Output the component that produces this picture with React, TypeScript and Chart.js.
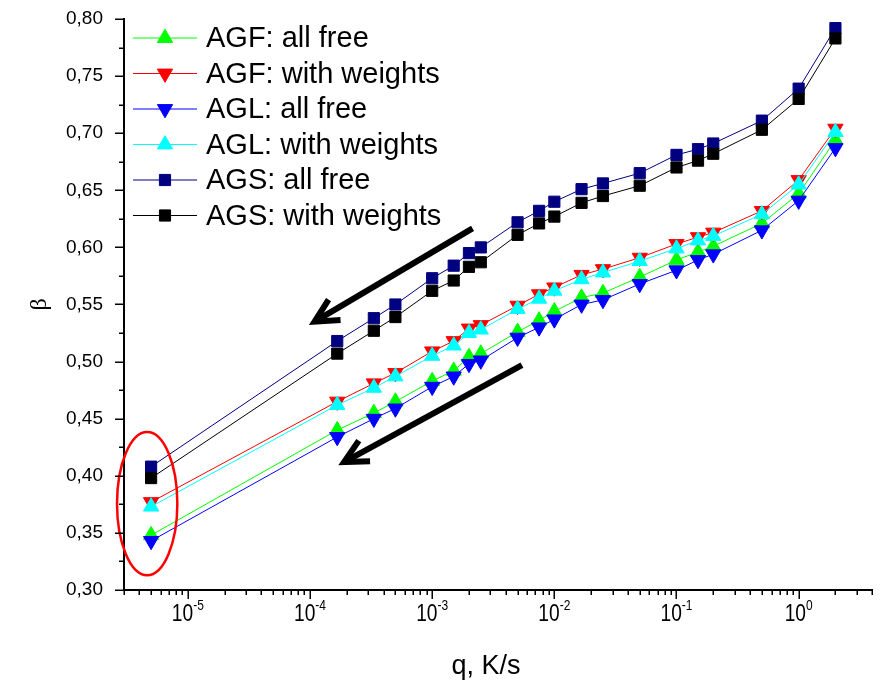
import React, { useEffect, useRef } from 'react';
import { Chart, registerables } from 'chart.js';

Chart.register(...registerables);

// Heating rate q, K/s
const qValues = [5e-6, 1.67e-4, 3.33e-4, 5e-4, 1e-3, 1.5e-3, 2e-3, 2.5e-3, 5e-3, 7.5e-3, 1e-2, 1.67e-2, 2.5e-2, 5e-2, 0.1, 0.15, 0.2, 0.5, 1, 2];

const agfAllFree = [0.348, 0.440, 0.455, 0.465, 0.483, 0.492, 0.504, 0.507, 0.526, 0.536, 0.544, 0.556, 0.560, 0.574, 0.589, 0.596, 0.601, 0.621, 0.647, 0.694];
const agfWeights = [0.377, 0.465, 0.481, 0.490, 0.509, 0.518, 0.529, 0.532, 0.549, 0.559, 0.565, 0.576, 0.581, 0.591, 0.603, 0.609, 0.613, 0.632, 0.659, 0.704];
const aglAllFree = [0.343, 0.434, 0.450, 0.459, 0.478, 0.487, 0.498, 0.501, 0.521, 0.530, 0.537, 0.550, 0.554, 0.568, 0.580, 0.589, 0.594, 0.615, 0.641, 0.687];
const aglWeights = [0.373, 0.462, 0.477, 0.487, 0.505, 0.514, 0.525, 0.528, 0.546, 0.555, 0.562, 0.572, 0.578, 0.588, 0.599, 0.606, 0.610, 0.629, 0.655, 0.701];
const agsAllFree = [0.408, 0.518, 0.538, 0.550, 0.573, 0.584, 0.595, 0.600, 0.622, 0.632, 0.640, 0.651, 0.656, 0.665, 0.681, 0.686, 0.691, 0.711, 0.739, 0.792];
const agsWeights = [0.398, 0.507, 0.527, 0.539, 0.562, 0.571, 0.583, 0.587, 0.611, 0.621, 0.627, 0.639, 0.645, 0.654, 0.670, 0.676, 0.682, 0.703, 0.730, 0.783];

const seriesLabels = ['AGF: all free', 'AGF: with weights', 'AGL: all free', 'AGL: with weights', 'AGS: all free', 'AGS: with weights'];

// Axis ranges and ticks
const xMin = 3e-6;
const xMax = 4;
const yMin = 0.3;
const yMax = 0.8;
const xMajorTicks = [1e-5, 1e-4, 1e-3, 1e-2, 1e-1, 1];
const xMajorExponents = ['-5', '-4', '-3', '-2', '-1', '0'];
const xDecades = [-6, -5, -4, -3, -2, -1, 0];
const yMinorStep = 0.025;

// Annotations (data coordinates)
const arrowUpper = { from: [2.14e-3, 0.6167], to: [1.09e-4, 0.535] };
const arrowLower = { from: [5.43e-3, 0.497], to: [1.9e-4, 0.412] };
const ellipseBox = { xLeft: 2.63e-6, xRight: 8.2e-6, yTop: 0.4384, yBottom: 0.313 };

const FONT = '"Liberation Sans", Arial, sans-serif';

function drawMarker(ctx: CanvasRenderingContext2D, style: string, rot: number, x: number, y: number, r: number, color: string) {
  ctx.save();
  ctx.fillStyle = color;
  ctx.strokeStyle = color;
  ctx.lineWidth = 1;
  ctx.beginPath();
  if (style === 'rect') {
    const s = Math.SQRT1_2 * r;
    ctx.rect(x - s, y - s, 2 * s, 2 * s);
  } else {
    const sign = rot === 180 ? -1 : 1;
    const w = r * Math.sqrt(3) / 2;
    ctx.moveTo(x, y - sign * r);
    ctx.lineTo(x + w, y + sign * r / 2);
    ctx.lineTo(x - w, y + sign * r / 2);
    ctx.closePath();
  }
  ctx.fill();
  ctx.stroke();
  ctx.restore();
}

function drawArrow(ctx: CanvasRenderingContext2D, x1: number, y1: number, x2: number, y2: number) {
  const ang = Math.atan2(y1 - y2, x1 - x2);
  const head = 26;
  const spread = 0.47;
  ctx.save();
  ctx.strokeStyle = '#000';
  ctx.lineWidth = 6;
  ctx.lineCap = 'butt';
  ctx.lineJoin = 'miter';
  ctx.beginPath();
  ctx.moveTo(x1, y1);
  ctx.lineTo(x2 + Math.cos(ang) * 3, y2 + Math.sin(ang) * 3);
  ctx.stroke();
  ctx.beginPath();
  ctx.moveTo(x2 + Math.cos(ang - spread) * head, y2 + Math.sin(ang - spread) * head);
  ctx.lineTo(x2, y2);
  ctx.lineTo(x2 + Math.cos(ang + spread) * head, y2 + Math.sin(ang + spread) * head);
  ctx.stroke();
  ctx.restore();
}

export default function App() {
  const ref = useRef<HTMLCanvasElement>(null);

  useEffect(() => {
    const series = [
      { label: seriesLabels[0], values: agfAllFree, color: '#00ff00', style: 'triangle', rot: 0, r: 8.8 },
      { label: seriesLabels[1], values: agfWeights, color: '#ff0000', style: 'triangle', rot: 180, r: 8.8 },
      { label: seriesLabels[2], values: aglAllFree, color: '#0000ff', style: 'triangle', rot: 180, r: 8.8 },
      { label: seriesLabels[3], values: aglWeights, color: '#00ffff', style: 'triangle', rot: 0, r: 8.8 },
      { label: seriesLabels[4], values: agsAllFree, color: '#000080', style: 'rect', rot: 0, r: 7.9 },
      { label: seriesLabels[5], values: agsWeights, color: '#000000', style: 'rect', rot: 0, r: 7.9 },
    ];

    const decor = {
      id: 'decor',
      afterDatasetsDraw(chart: any) {
        const { ctx, chartArea } = chart;
        const xs = chart.scales.x;
        const ys = chart.scales.y;
        ctx.save();
        // Arrows
        for (const a of [arrowUpper, arrowLower]) {
          drawArrow(ctx, xs.getPixelForValue(a.from[0]), ys.getPixelForValue(a.from[1]), xs.getPixelForValue(a.to[0]), ys.getPixelForValue(a.to[1]));
        }
        // Ellipse
        const exl = xs.getPixelForValue(ellipseBox.xLeft);
        const exr = xs.getPixelForValue(ellipseBox.xRight);
        const eyt = ys.getPixelForValue(ellipseBox.yTop);
        const eyb = ys.getPixelForValue(ellipseBox.yBottom);
        ctx.strokeStyle = '#ff0000';
        ctx.lineWidth = 2.5;
        ctx.beginPath();
        ctx.ellipse((exl + exr) / 2, (eyt + eyb) / 2, (exr - exl) / 2, (eyb - eyt) / 2, 0, 0, Math.PI * 2);
        ctx.stroke();

        // Legend
        const lx = chartArea.left + 9;
        series.forEach((s, i) => {
          const y = chartArea.top + 19 + i * 35.5;
          ctx.strokeStyle = s.color;
          ctx.lineWidth = 1;
          ctx.beginPath();
          ctx.moveTo(lx, y);
          ctx.lineTo(lx + 64, y);
          ctx.stroke();
          drawMarker(ctx, s.style, s.rot, lx + 32, y, s.r, s.color);
          ctx.fillStyle = '#000';
          ctx.font = '29px ' + FONT;
          ctx.textBaseline = 'middle';
          ctx.textAlign = 'left';
          ctx.fillText(s.label, lx + 73, y + 1);
        });
        ctx.restore();
      },
      afterDraw(chart: any) {
        const { ctx, chartArea } = chart;
        const xs = chart.scales.x;
        const ys = chart.scales.y;
        ctx.save();
        ctx.strokeStyle = '#000';
        ctx.lineWidth = 1.5;
        // x ticks
        for (const d of xDecades) {
          for (let m = 1; m <= 9; m++) {
            const v = m * Math.pow(10, d);
            if (v < xMin || v > xMax) continue;
            const px = Math.round(xs.getPixelForValue(v)) + 0.25;
            const len = m === 1 ? 9 : 5;
            ctx.beginPath();
            ctx.moveTo(px, chartArea.bottom);
            ctx.lineTo(px, chartArea.bottom + len);
            ctx.stroke();
          }
        }
        // y ticks
        const n = Math.round((yMax - yMin) / yMinorStep);
        for (let i = 0; i <= n; i++) {
          const v = yMin + i * yMinorStep;
          const py = Math.round(ys.getPixelForValue(v)) + 0.25;
          const len = i % 2 === 0 ? 9 : 5;
          ctx.beginPath();
          ctx.moveTo(chartArea.left, py);
          ctx.lineTo(chartArea.left - len, py);
          ctx.stroke();
        }
        // x tick labels 10^n
        ctx.fillStyle = '#000';
        ctx.textBaseline = 'alphabetic';
        ctx.textAlign = 'left';
        xMajorTicks.forEach((v, i) => {
          const px = xs.getPixelForValue(v);
          ctx.font = '24px ' + FONT;
          const w1 = ctx.measureText('10').width * 0.8;
          ctx.font = '15px ' + FONT;
          const w2 = ctx.measureText(xMajorExponents[i]).width * 0.8;
          const start = px - (w1 + w2) / 2;
          ctx.save();
          ctx.translate(start, chartArea.bottom + 31);
          ctx.scale(0.8, 1);
          ctx.font = '24px ' + FONT;
          ctx.fillText('10', 0, 0);
          ctx.font = '15px ' + FONT;
          ctx.fillText(xMajorExponents[i], w1 / 0.8, -11);
          ctx.restore();
        });
        // x title
        ctx.font = '27px ' + FONT;
        ctx.textAlign = 'center';
        ctx.fillText('q, K/s', (chartArea.left + chartArea.right) / 2 - 12, chartArea.bottom + 84);
        // y title
        ctx.save();
        ctx.translate(40, (chartArea.top + chartArea.bottom) / 2);
        ctx.rotate(-Math.PI / 2);
        ctx.font = '24px "Liberation Serif", "DejaVu Serif", serif';
        ctx.textAlign = 'center';
        ctx.textBaseline = 'middle';
        ctx.fillText('β', 0, 0);
        ctx.restore();
        ctx.restore();
      },
    };

    const chart = new Chart(ref.current as HTMLCanvasElement, {
      type: 'line',
      data: {
        datasets: series.map((s, i) => ({
          label: s.label,
          data: qValues.map((q, j) => ({ x: q, y: s.values[j] })),
          borderColor: s.color,
          backgroundColor: s.color,
          borderWidth: 1,
          pointStyle: s.style as any,
          pointRotation: s.rot,
          pointRadius: s.r,
          pointBorderWidth: 1,
          pointBorderColor: s.color,
          pointBackgroundColor: s.color,
          tension: 0,
          fill: false,
          order: 10 - i,
        })),
      },
      options: {
        animation: false,
        responsive: false,
        maintainAspectRatio: false,
        layout: { padding: { top: 19, right: 1, left: 0, bottom: 0 } },
        plugins: { legend: { display: false }, tooltip: { enabled: false } },
        scales: {
          x: {
            type: 'logarithmic',
            min: xMin,
            max: xMax,
            grid: { display: false, drawTicks: false },
            border: { display: true, color: '#000', width: 2 },
            ticks: { display: false },
            afterFit: (s: any) => { s.height = 94; s.paddingLeft = 0; s.paddingRight = 0; },
          },
          y: {
            type: 'linear',
            min: yMin,
            max: yMax,
            grid: { display: false, drawTicks: false },
            border: { display: true, color: '#000', width: 2 },
            ticks: {
              stepSize: 0.05,
              color: '#000',
              padding: 21,
              font: { family: FONT, size: 19 },
              callback: (v: any) => Number(v).toFixed(2).replace('.', ','),
            },
            afterFit: (s: any) => { s.width = 124; s.paddingTop = 0; s.paddingBottom = 0; },
          },
        },
      },
      plugins: [decor],
    } as any);
    return () => chart.destroy();
  }, []);

  return (
    <div style={{ position: 'absolute', left: 0, top: 0, width: 882, height: 684, background: '#fff' }}>
      <canvas ref={ref} width={882} height={684} style={{ width: 882, height: 684, display: 'block' }} />
    </div>
  );
}
